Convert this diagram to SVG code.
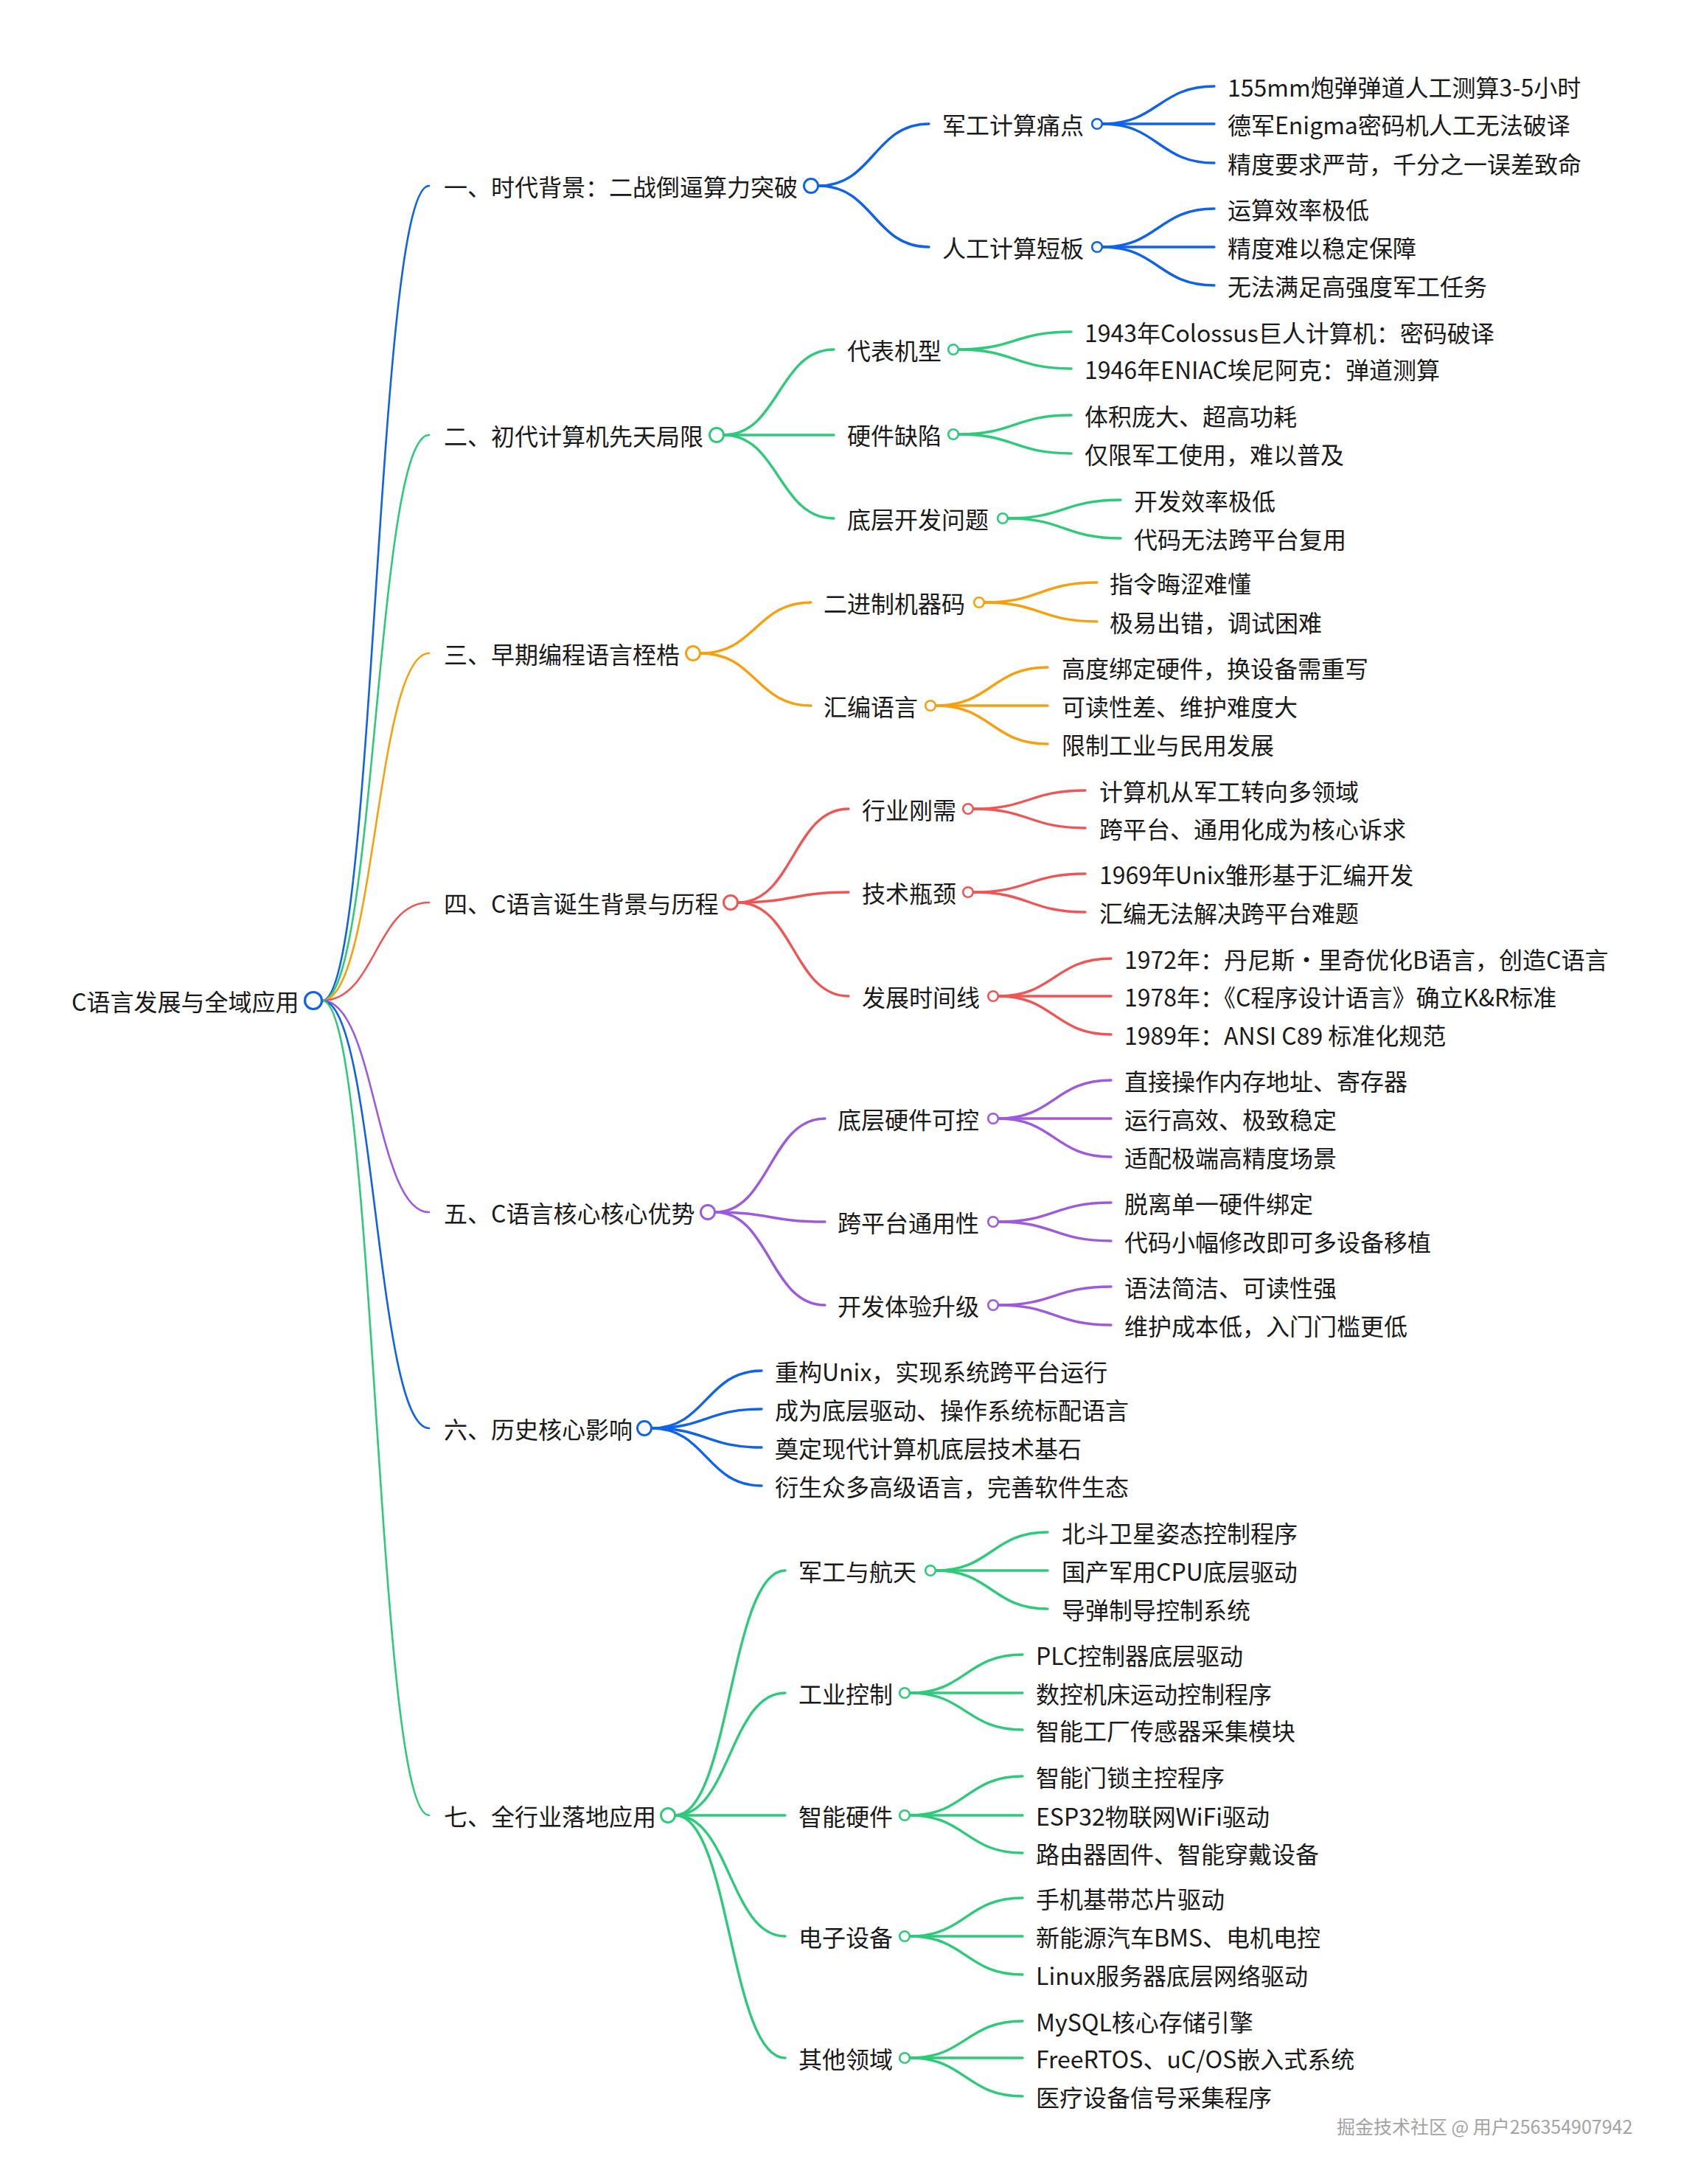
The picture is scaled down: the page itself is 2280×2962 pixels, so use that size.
<svg xmlns="http://www.w3.org/2000/svg" width="2280" height="2962" viewBox="0 0 2280 2962">
<style>
.t{font-family:"Noto Sans CJK SC","Noto Sans",sans-serif;font-size:32px;fill:#1a1a1a;dominant-baseline:central}
.wm{font-family:"Noto Sans CJK SC","Noto Sans",sans-serif;font-size:25px;fill:#a3a3a3;dominant-baseline:central}
.l{fill:none;stroke-linecap:round}
.r0{stroke-width:2.6}
.r1{stroke-width:3.4}
.c0{fill:#fff;stroke-width:3.2}
.c1{fill:#fff;stroke-width:3}
.c2{fill:#fff;stroke-width:2.6}
.blue{stroke:#1062E8}
.green{stroke:#2EC97A}
.orange{stroke:#F5A10F}
.red{stroke:#EE5656}
.purple{stroke:#9C5BDB}
</style>
<rect width="2280" height="2962" fill="#fff"/>
<g id="connectors">
<!-- root to level 1 -->
<path class="l r0 blue" d="M437 1357 C509.5 1357 509.5 252 582 252"/>
<path class="l r0 green" d="M437 1357 C509.5 1357 509.5 590 582 590"/>
<path class="l r0 orange" d="M437 1357 C509.5 1357 509.5 886 582 886"/>
<path class="l r0 red" d="M437 1357 C509.5 1357 509.5 1224 582 1224"/>
<path class="l r0 purple" d="M437 1357 C509.5 1357 509.5 1644 582 1644"/>
<path class="l r0 blue" d="M437 1357 C509.5 1357 509.5 1937 582 1937"/>
<path class="l r0 green" d="M437 1357 C509.5 1357 509.5 2462 582 2462"/>
<!-- branch 1 -->
<path class="l r1 blue" d="M1110 252 C1185 252 1185 168 1260 168"/>
<path class="l r1 blue" d="M1110 252 C1185 252 1185 335 1260 335"/>
<path class="l r1 blue" d="M1495 168 C1571 168 1571 117 1647 117"/>
<path class="l r1 blue" d="M1495 168 L1647 168"/>
<path class="l r1 blue" d="M1495 168 C1571 168 1571 221 1647 221"/>
<path class="l r1 blue" d="M1495 335 C1571 335 1571 283 1647 283"/>
<path class="l r1 blue" d="M1495 335 L1647 335"/>
<path class="l r1 blue" d="M1495 335 C1571 335 1571 387 1647 387"/>
<!-- branch 2 -->
<path class="l r1 green" d="M982 590 C1056 590 1056 474 1131 474"/>
<path class="l r1 green" d="M982 590 L1131 590"/>
<path class="l r1 green" d="M982 590 C1056 590 1056 703 1131 703"/>
<path class="l r1 green" d="M1300 474 C1376 474 1376 450 1453 450"/>
<path class="l r1 green" d="M1300 474 C1376 474 1376 500 1453 500"/>
<path class="l r1 green" d="M1300 589 C1376 589 1376 563 1453 563"/>
<path class="l r1 green" d="M1300 589 C1376 589 1376 615 1453 615"/>
<path class="l r1 green" d="M1367 703 C1443 703 1443 678 1520 678"/>
<path class="l r1 green" d="M1367 703 C1443 703 1443 730 1520 730"/>
<!-- branch 3 -->
<path class="l r1 orange" d="M950 886 C1025 886 1025 817 1100 817"/>
<path class="l r1 orange" d="M950 886 C1025 886 1025 957 1100 957"/>
<path class="l r1 orange" d="M1335 817 C1411 817 1411 790 1488 790"/>
<path class="l r1 orange" d="M1335 817 C1411 817 1411 843 1488 843"/>
<path class="l r1 orange" d="M1269 957 C1345 957 1345 905 1421 905"/>
<path class="l r1 orange" d="M1269 957 L1421 957"/>
<path class="l r1 orange" d="M1269 957 C1345 957 1345 1009 1421 1009"/>
<!-- branch 4 -->
<path class="l r1 red" d="M1001 1224 C1076 1224 1076 1097 1151 1097"/>
<path class="l r1 red" d="M1001 1224 C1076 1224 1076 1210 1151 1210"/>
<path class="l r1 red" d="M1001 1224 C1076 1224 1076 1351 1151 1351"/>
<path class="l r1 red" d="M1320 1097 C1396 1097 1396 1072 1472 1072"/>
<path class="l r1 red" d="M1320 1097 C1396 1097 1396 1123 1472 1123"/>
<path class="l r1 red" d="M1320 1210 C1396 1210 1396 1185 1472 1185"/>
<path class="l r1 red" d="M1320 1210 C1396 1210 1396 1237 1472 1237"/>
<path class="l r1 red" d="M1354 1351 C1430 1351 1430 1300 1507 1300"/>
<path class="l r1 red" d="M1354 1351 L1507 1351"/>
<path class="l r1 red" d="M1354 1351 C1430 1351 1430 1403 1507 1403"/>
<!-- branch 5 -->
<path class="l r1 purple" d="M970 1644 C1044 1644 1044 1517 1119 1517"/>
<path class="l r1 purple" d="M970 1644 C1044 1644 1044 1657 1119 1657"/>
<path class="l r1 purple" d="M970 1644 C1044 1644 1044 1770 1119 1770"/>
<path class="l r1 purple" d="M1354 1517 C1430 1517 1430 1465 1507 1465"/>
<path class="l r1 purple" d="M1354 1517 L1507 1517"/>
<path class="l r1 purple" d="M1354 1517 C1430 1517 1430 1569 1507 1569"/>
<path class="l r1 purple" d="M1354 1657 C1430 1657 1430 1631 1507 1631"/>
<path class="l r1 purple" d="M1354 1657 C1430 1657 1430 1683 1507 1683"/>
<path class="l r1 purple" d="M1354 1770 C1430 1770 1430 1745 1507 1745"/>
<path class="l r1 purple" d="M1354 1770 C1430 1770 1430 1797 1507 1797"/>
<!-- branch 6 -->
<path class="l r1 blue" d="M884 1937 C958 1937 958 1859 1033 1859"/>
<path class="l r1 blue" d="M884 1937 C958 1937 958 1911 1033 1911"/>
<path class="l r1 blue" d="M884 1937 C958 1937 958 1963 1033 1963"/>
<path class="l r1 blue" d="M884 1937 C958 1937 958 2015 1033 2015"/>
<!-- branch 7 -->
<path class="l r1 green" d="M916 2462 C990 2462 990 2130 1065 2130"/>
<path class="l r1 green" d="M916 2462 C990 2462 990 2296 1065 2296"/>
<path class="l r1 green" d="M916 2462 L1065 2462"/>
<path class="l r1 green" d="M916 2462 C990 2462 990 2626 1065 2626"/>
<path class="l r1 green" d="M916 2462 C990 2462 990 2791 1065 2791"/>
<path class="l r1 green" d="M1269 2130 C1345 2130 1345 2078 1421 2078"/>
<path class="l r1 green" d="M1269 2130 L1421 2130"/>
<path class="l r1 green" d="M1269 2130 C1345 2130 1345 2182 1421 2182"/>
<path class="l r1 green" d="M1234 2296 C1310 2296 1310 2244 1387 2244"/>
<path class="l r1 green" d="M1234 2296 L1387 2296"/>
<path class="l r1 green" d="M1234 2296 C1310 2296 1310 2346 1387 2346"/>
<path class="l r1 green" d="M1234 2462 C1310 2462 1310 2409 1387 2409"/>
<path class="l r1 green" d="M1234 2462 L1387 2462"/>
<path class="l r1 green" d="M1234 2462 C1310 2462 1310 2513 1387 2513"/>
<path class="l r1 green" d="M1234 2626 C1310 2626 1310 2574 1387 2574"/>
<path class="l r1 green" d="M1234 2626 L1387 2626"/>
<path class="l r1 green" d="M1234 2626 C1310 2626 1310 2678 1387 2678"/>
<path class="l r1 green" d="M1234 2791 C1310 2791 1310 2741 1387 2741"/>
<path class="l r1 green" d="M1234 2791 L1387 2791"/>
<path class="l r1 green" d="M1234 2791 C1310 2791 1310 2843 1387 2843"/>
</g>
<g id="root"><text class="t" x="97" y="1357">C语言发展与全域应用</text><circle class="c0 blue" cx="425" cy="1357" r="11.5"/></g>
<!-- branch 1 -->
<g id="n1"><text class="t" x="602" y="252">一、时代背景：二战倒逼算力突破</text><circle class="c1 blue" cx="1100" cy="252" r="9.5"/></g>
<g id="n1-1"><text class="t" x="1278" y="168">军工计算痛点</text><circle class="c2 blue" cx="1488" cy="168" r="6.8"/></g>
<g id="n1-1-1"><text class="t" x="1665" y="117">155mm炮弹弹道人工测算3-5小时</text></g>
<g id="n1-1-2"><text class="t" x="1665" y="168">德军Enigma密码机人工无法破译</text></g>
<g id="n1-1-3"><text class="t" x="1665" y="221">精度要求严苛，千分之一误差致命</text></g>
<g id="n1-2"><text class="t" x="1278" y="335">人工计算短板</text><circle class="c2 blue" cx="1488" cy="335" r="6.8"/></g>
<g id="n1-2-1"><text class="t" x="1665" y="283">运算效率极低</text></g>
<g id="n1-2-2"><text class="t" x="1665" y="335">精度难以稳定保障</text></g>
<g id="n1-2-3"><text class="t" x="1665" y="387">无法满足高强度军工任务</text></g>
<!-- branch 2 -->
<g id="n2"><text class="t" x="602" y="590">二、初代计算机先天局限</text><circle class="c1 green" cx="972" cy="590" r="9.5"/></g>
<g id="n2-1"><text class="t" x="1149" y="474">代表机型</text><circle class="c2 green" cx="1293" cy="474" r="6.8"/></g>
<g id="n2-1-1"><text class="t" x="1471" y="450">1943年Colossus巨人计算机：密码破译</text></g>
<g id="n2-1-2"><text class="t" x="1471" y="500">1946年ENIAC埃尼阿克：弹道测算</text></g>
<g id="n2-2"><text class="t" x="1149" y="589">硬件缺陷</text><circle class="c2 green" cx="1293" cy="589" r="6.8"/></g>
<g id="n2-2-1"><text class="t" x="1471" y="563">体积庞大、超高功耗</text></g>
<g id="n2-2-2"><text class="t" x="1471" y="615">仅限军工使用，难以普及</text></g>
<g id="n2-3"><text class="t" x="1149" y="703">底层开发问题</text><circle class="c2 green" cx="1360" cy="703" r="6.8"/></g>
<g id="n2-3-1"><text class="t" x="1538" y="678">开发效率极低</text></g>
<g id="n2-3-2"><text class="t" x="1538" y="730">代码无法跨平台复用</text></g>
<!-- branch 3 -->
<g id="n3"><text class="t" x="602" y="886">三、早期编程语言桎梏</text><circle class="c1 orange" cx="940" cy="886" r="9.5"/></g>
<g id="n3-1"><text class="t" x="1117" y="817">二进制机器码</text><circle class="c2 orange" cx="1328" cy="817" r="6.8"/></g>
<g id="n3-1-1"><text class="t" x="1505" y="790">指令晦涩难懂</text></g>
<g id="n3-1-2"><text class="t" x="1505" y="843">极易出错，调试困难</text></g>
<g id="n3-2"><text class="t" x="1117" y="957">汇编语言</text><circle class="c2 orange" cx="1262" cy="957" r="6.8"/></g>
<g id="n3-2-1"><text class="t" x="1440" y="905">高度绑定硬件，换设备需重写</text></g>
<g id="n3-2-2"><text class="t" x="1440" y="957">可读性差、维护难度大</text></g>
<g id="n3-2-3"><text class="t" x="1440" y="1009">限制工业与民用发展</text></g>
<!-- branch 4 -->
<g id="n4"><text class="t" x="602" y="1224">四、C语言诞生背景与历程</text><circle class="c1 red" cx="991" cy="1224" r="9.5"/></g>
<g id="n4-1"><text class="t" x="1169" y="1097">行业刚需</text><circle class="c2 red" cx="1313" cy="1097" r="6.8"/></g>
<g id="n4-1-1"><text class="t" x="1491" y="1072">计算机从军工转向多领域</text></g>
<g id="n4-1-2"><text class="t" x="1491" y="1123">跨平台、通用化成为核心诉求</text></g>
<g id="n4-2"><text class="t" x="1169" y="1210">技术瓶颈</text><circle class="c2 red" cx="1313" cy="1210" r="6.8"/></g>
<g id="n4-2-1"><text class="t" x="1491" y="1185">1969年Unix雏形基于汇编开发</text></g>
<g id="n4-2-2"><text class="t" x="1491" y="1237">汇编无法解决跨平台难题</text></g>
<g id="n4-3"><text class="t" x="1169" y="1351">发展时间线</text><circle class="c2 red" cx="1347" cy="1351" r="6.8"/></g>
<g id="n4-3-1"><text class="t" x="1525" y="1300">1972年：丹尼斯·里奇优化B语言，创造C语言</text></g>
<g id="n4-3-2"><text class="t" x="1525" y="1351">1978年：《C程序设计语言》确立K&amp;R标准</text></g>
<g id="n4-3-3"><text class="t" x="1525" y="1403">1989年：ANSI C89 标准化规范</text></g>
<!-- branch 5 -->
<g id="n5"><text class="t" x="602" y="1644">五、C语言核心核心优势</text><circle class="c1 purple" cx="960" cy="1644" r="9.5"/></g>
<g id="n5-1"><text class="t" x="1136" y="1517">底层硬件可控</text><circle class="c2 purple" cx="1347" cy="1517" r="6.8"/></g>
<g id="n5-1-1"><text class="t" x="1525" y="1465">直接操作内存地址、寄存器</text></g>
<g id="n5-1-2"><text class="t" x="1525" y="1517">运行高效、极致稳定</text></g>
<g id="n5-1-3"><text class="t" x="1525" y="1569">适配极端高精度场景</text></g>
<g id="n5-2"><text class="t" x="1136" y="1657">跨平台通用性</text><circle class="c2 purple" cx="1347" cy="1657" r="6.8"/></g>
<g id="n5-2-1"><text class="t" x="1525" y="1631">脱离单一硬件绑定</text></g>
<g id="n5-2-2"><text class="t" x="1525" y="1683">代码小幅修改即可多设备移植</text></g>
<g id="n5-3"><text class="t" x="1136" y="1770">开发体验升级</text><circle class="c2 purple" cx="1347" cy="1770" r="6.8"/></g>
<g id="n5-3-1"><text class="t" x="1525" y="1745">语法简洁、可读性强</text></g>
<g id="n5-3-2"><text class="t" x="1525" y="1797">维护成本低，入门门槛更低</text></g>
<!-- branch 6 -->
<g id="n6"><text class="t" x="602" y="1937">六、历史核心影响</text><circle class="c1 blue" cx="874" cy="1937" r="9.5"/></g>
<g id="n6-1"><text class="t" x="1051" y="1859">重构Unix，实现系统跨平台运行</text></g>
<g id="n6-2"><text class="t" x="1051" y="1911">成为底层驱动、操作系统标配语言</text></g>
<g id="n6-3"><text class="t" x="1051" y="1963">奠定现代计算机底层技术基石</text></g>
<g id="n6-4"><text class="t" x="1051" y="2015">衍生众多高级语言，完善软件生态</text></g>
<!-- branch 7 -->
<g id="n7"><text class="t" x="602" y="2462">七、全行业落地应用</text><circle class="c1 green" cx="906" cy="2462" r="9.5"/></g>
<g id="n7-1"><text class="t" x="1083" y="2130">军工与航天</text><circle class="c2 green" cx="1262" cy="2130" r="6.8"/></g>
<g id="n7-1-1"><text class="t" x="1440" y="2078">北斗卫星姿态控制程序</text></g>
<g id="n7-1-2"><text class="t" x="1440" y="2130">国产军用CPU底层驱动</text></g>
<g id="n7-1-3"><text class="t" x="1440" y="2182">导弹制导控制系统</text></g>
<g id="n7-2"><text class="t" x="1083" y="2296">工业控制</text><circle class="c2 green" cx="1227" cy="2296" r="6.8"/></g>
<g id="n7-2-1"><text class="t" x="1405" y="2244">PLC控制器底层驱动</text></g>
<g id="n7-2-2"><text class="t" x="1405" y="2296">数控机床运动控制程序</text></g>
<g id="n7-2-3"><text class="t" x="1405" y="2346">智能工厂传感器采集模块</text></g>
<g id="n7-3"><text class="t" x="1083" y="2462">智能硬件</text><circle class="c2 green" cx="1227" cy="2462" r="6.8"/></g>
<g id="n7-3-1"><text class="t" x="1405" y="2409">智能门锁主控程序</text></g>
<g id="n7-3-2"><text class="t" x="1405" y="2462">ESP32物联网WiFi驱动</text></g>
<g id="n7-3-3"><text class="t" x="1405" y="2513">路由器固件、智能穿戴设备</text></g>
<g id="n7-4"><text class="t" x="1083" y="2626">电子设备</text><circle class="c2 green" cx="1227" cy="2626" r="6.8"/></g>
<g id="n7-4-1"><text class="t" x="1405" y="2574">手机基带芯片驱动</text></g>
<g id="n7-4-2"><text class="t" x="1405" y="2626">新能源汽车BMS、电机电控</text></g>
<g id="n7-4-3"><text class="t" x="1405" y="2678">Linux服务器底层网络驱动</text></g>
<g id="n7-5"><text class="t" x="1083" y="2791">其他领域</text><circle class="c2 green" cx="1227" cy="2791" r="6.8"/></g>
<g id="n7-5-1"><text class="t" x="1405" y="2741">MySQL核心存储引擎</text></g>
<g id="n7-5-2"><text class="t" x="1405" y="2791">FreeRTOS、uC/OS嵌入式系统</text></g>
<g id="n7-5-3"><text class="t" x="1405" y="2843">医疗设备信号采集程序</text></g>
<g id="watermark"><text class="wm" x="1813" y="2883">掘金技术社区 @ 用户256354907942</text></g>
</svg>
